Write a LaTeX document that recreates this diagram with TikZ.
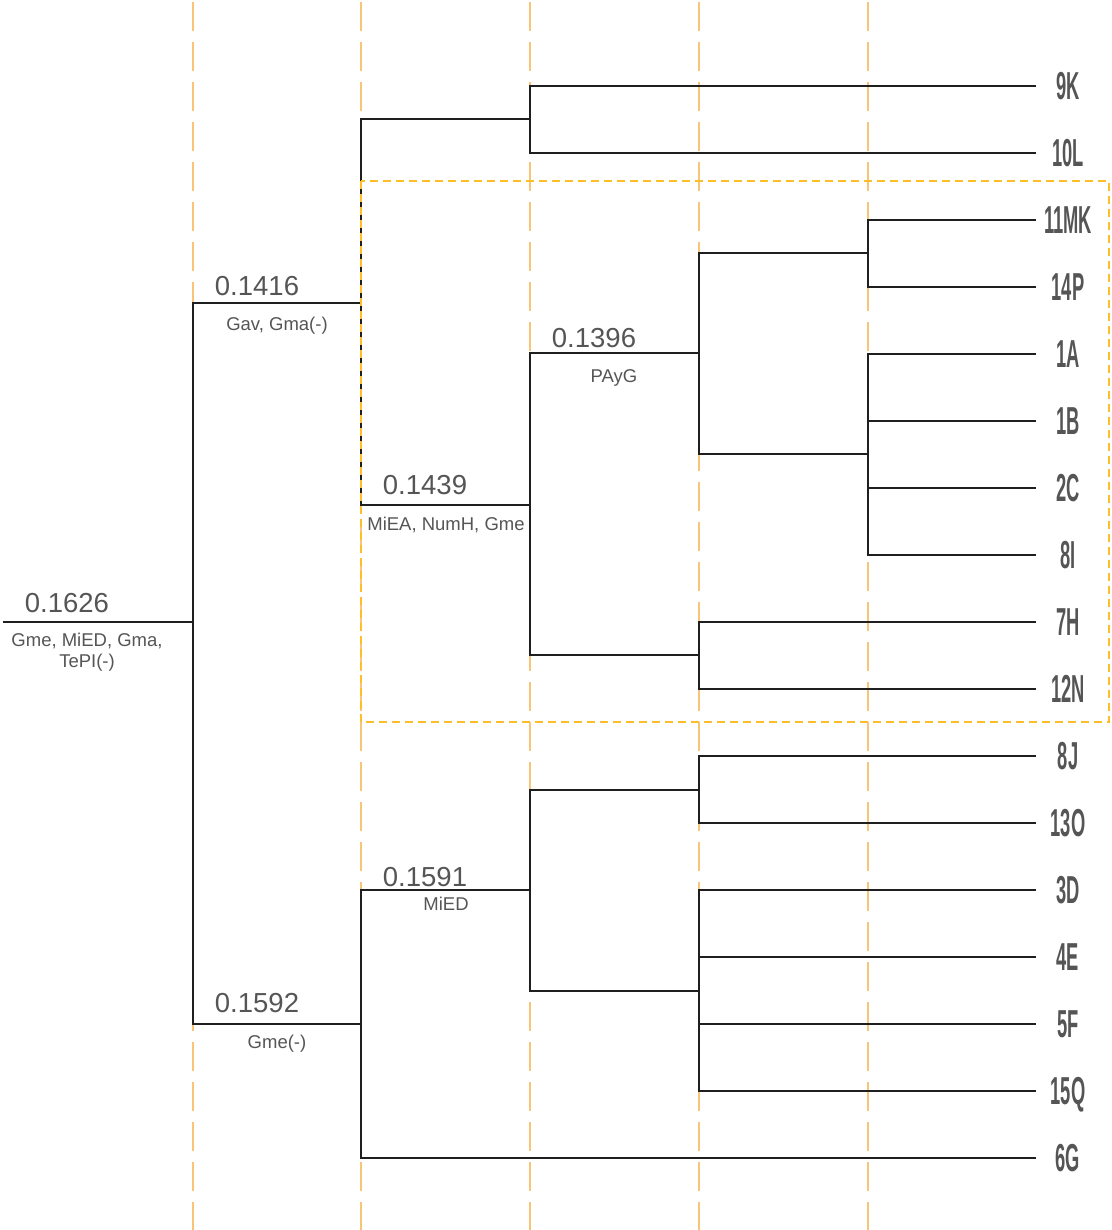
\documentclass[tikz,border=0pt]{standalone}
\usepackage{fontspec}
\setmainfont{Liberation Sans}
\newfontfamily\leaffont[FakeStretch=0.47]{Liberation Sans}
\usepackage{tikz}
\usetikzlibrary{positioning}
\definecolor{guide}{RGB}{247,196,120}
\definecolor{grpor}{RGB}{255,190,40}
\definecolor{txtgray}{RGB}{85,85,85}
\definecolor{leafgray}{RGB}{85,85,85}

\begin{document}
\begin{tikzpicture}[x=1pt, y=-1pt,
      br/.style={line width=1.8pt, black!88},
      gd/.style={line width=1.8pt, guide, dash pattern=on 29pt off 11pt},
      grp/.style={line width=1.8pt, grpor, dash pattern=on 8pt off 5pt},
      leaf/.style={text width=64pt, align=center, inner sep=0pt, text depth=0pt, text=leafgray, font=\leaffont\bfseries\fontsize{39}{39}\selectfont},
      val/.style={anchor=base, inner sep=0pt, text=txtgray, font=\fontsize{27.5}{27.5}\selectfont},
      var/.style={anchor=base, inner sep=0pt, text=txtgray, font=\fontsize{18.5}{22}\selectfont}]
    \useasboundingbox (0,0) rectangle (1111,1230);
    \foreach \gx in {193,361,530,699,868} \draw[gd] (\gx,2) -- (\gx,1230);
    \coordinate (r0) at (3,622); \coordinate (r) at (193,622);
    \coordinate (a) at (361,303); \coordinate (b) at (361,1024);
    \coordinate (a1) at (530,119); \coordinate (a2) at (530,505);
    \coordinate (a21) at (699,353); \coordinate (a22) at (699,655);
    \coordinate (a211) at (868,253); \coordinate (a212) at (868,454);
    \coordinate (b1) at (530,890);
    \coordinate (b11) at (699,790); \coordinate (b12) at (699,991);
    \foreach \nm/\ly in {9K/86, 10L/153, 11MK/220, 14P/287, 1A/354, 1B/421, 2C/488, 8I/555, 7H/622, 12N/689,
        8J/756, 13O/823, 3D/890, 4E/957, 5F/1024, 15Q/1091, 6G/1158}
      \node[leaf] (l\nm) at (1068,\ly) {\nm};
    \draw[br] (r0) -- (r);
    \foreach \p/\c in {r/a, r/b, a/a1, a/a2, a1/l9K.west, a1/l10L.west, a2/a21, a2/a22, a21/a211, a21/a212,
        a211/l11MK.west, a211/l14P.west, a212/l1A.west, a212/l1B.west, a212/l2C.west, a212/l8I.west,
        a22/l7H.west, a22/l12N.west, b/b1, b/l6G.west, b1/b11, b1/b12, b11/l8J.west, b11/l13O.west,
        b12/l3D.west, b12/l4E.west, b12/l5F.west, b12/l15Q.west}
      \draw[br] (\p) |- (\c);
    \draw[grp] (361,181) rectangle (1109,722);
    \node[val] (v1626) at (67,612) {0.1626};
    \node[var] (g1626a) at (87,646) {Gme, MiED, Gma,};
    \node[var] (g1626b) at (87,667) {TePI(-)};
    \node[val] (v1416) at (257,295) {0.1416};
    \node[var] (g1416) at (277,330) {Gav, Gma(-)};
    \node[val] (v1439) at (425,494) {0.1439};
    \node[var] (g1439) at (446,530) {MiEA, NumH, Gme};
    \node[val] (v1396) at (594,347) {0.1396};
    \node[var] (g1396) at (614,382) {PAyG};
    \node[val] (v1591) at (425,886) {0.1591};
    \node[var] (g1591) at (446,910) {MiED};
    \node[val] (v1592) at (257,1012) {0.1592};
    \node[var] (g1592) at (277,1048) {Gme(-)};
  \end{tikzpicture}
\end{document}
